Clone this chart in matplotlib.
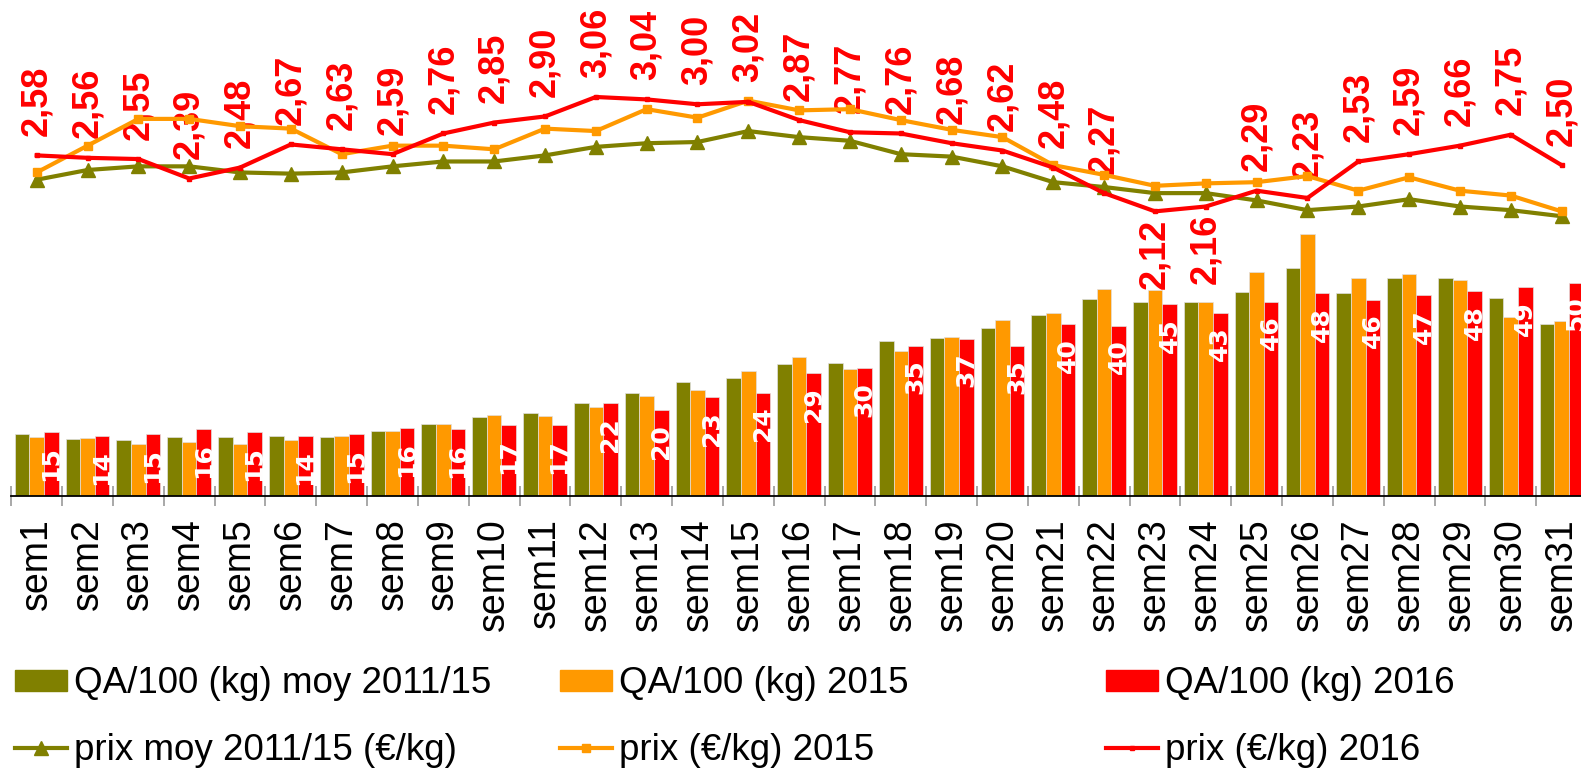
import numpy as np
import matplotlib
matplotlib.use("Agg")
import matplotlib.pyplot as plt
from matplotlib.patches import Patch
from matplotlib.lines import Line2D

plt.rcParams['font.family'] = ['Liberation Sans', 'DejaVu Sans']

semaines = ['sem1', 'sem2', 'sem3', 'sem4', 'sem5', 'sem6', 'sem7', 'sem8', 'sem9', 'sem10',
            'sem11', 'sem12', 'sem13', 'sem14', 'sem15', 'sem16', 'sem17', 'sem18', 'sem19', 'sem20',
            'sem21', 'sem22', 'sem23', 'sem24', 'sem25', 'sem26', 'sem27', 'sem28', 'sem29', 'sem30', 'sem31']

# quantites achetees /100 menages (kg)
qa_moy = [14.5, 13.4, 13.1, 13.8, 13.8, 14.1, 13.9, 15.2, 17.0, 18.6, 19.6, 21.8, 24.3, 26.9, 27.8, 31.0,
          31.4, 36.4, 37.2, 39.5, 42.5, 46.3, 45.7, 45.6, 48.0, 53.6, 47.7, 51.4, 51.3, 46.5, 40.5]
qa_2015 = [13.8, 13.6, 12.3, 12.7, 12.3, 13.2, 14.0, 15.2, 16.9, 19.1, 18.8, 20.9, 23.6, 25.0, 29.5, 32.8,
           29.9, 34.2, 37.4, 41.4, 43.1, 48.6, 48.4, 45.6, 52.6, 61.7, 51.4, 52.2, 50.9, 42.1, 41.1]
qa_2016 = [15.1, 14.1, 14.6, 15.8, 15.1, 14.1, 14.6, 15.9, 15.8, 16.6, 16.6, 21.8, 20.2, 23.3, 24.3, 28.9,
           30.0, 35.4, 37.0, 35.4, 40.4, 40.1, 45.2, 43.1, 45.7, 47.7, 46.2, 47.2, 48.2, 49.1, 50.2]

# prix (euro/kg)
prix_moy = [2.38, 2.46, 2.49, 2.49, 2.44, 2.43, 2.44, 2.49, 2.53, 2.53, 2.58, 2.65, 2.68, 2.69, 2.78, 2.73,
            2.70, 2.59, 2.57, 2.49, 2.36, 2.32, 2.27, 2.27, 2.21, 2.13, 2.16, 2.22, 2.16, 2.13, 2.08]
prix_2015 = [2.44, 2.66, 2.88, 2.88, 2.82, 2.80, 2.59, 2.66, 2.66, 2.63, 2.80, 2.78, 2.96, 2.89, 3.03, 2.95,
             2.96, 2.87, 2.79, 2.73, 2.50, 2.42, 2.33, 2.35, 2.36, 2.41, 2.29, 2.40, 2.29, 2.25, 2.12]
prix_2016 = [2.58, 2.56, 2.55, 2.39, 2.48, 2.67, 2.63, 2.59, 2.76, 2.85, 2.90, 3.06, 3.04, 3.00, 3.02, 2.87,
             2.77, 2.76, 2.68, 2.62, 2.48, 2.27, 2.12, 2.16, 2.29, 2.23, 2.53, 2.59, 2.66, 2.75, 2.50]

c_olive = '#808000'
c_orange = '#FF9900'
c_red = '#FF0000'

W, H = 1581, 774
fig = plt.figure(figsize=(W / 100, H / 100), dpi=100)
ax = fig.add_axes([11.3 / W, 1 - 496 / H, 1575.7 / W, 496 / H])
ax2 = ax.twinx()

x = np.arange(len(semaines))
bw = 0.287
ax.bar(x - bw, qa_moy, bw, color=c_olive, edgecolor='#e0e0e0', linewidth=0.5)
ax.bar(x, qa_2015, bw, color=c_orange, edgecolor='#e0e0e0', linewidth=0.5)
ax.bar(x + bw, qa_2016, bw, color=c_red, edgecolor='#e0e0e0', linewidth=0.5)

for xi, v in zip(x, qa_2016):
    ax.annotate(f"{v:.0f}", (xi + bw, v), xytext=(0, -10), textcoords='offset points',
                rotation=90, ha='center', va='top', color='white', fontsize=18,
                fontweight='bold', family='DejaVu Sans')

ax2.plot(x, prix_moy, color=c_olive, lw=3, marker='^', ms=10, zorder=3)
ax2.plot(x, prix_2015, color=c_orange, lw=3, marker='s', ms=6, zorder=4)
ax2.plot(x, prix_2016, color=c_red, lw=3, marker='s', ms=3.5, zorder=5)

for i, p in enumerate(prix_2016):
    txt = f"{p:.2f}".replace('.', ',')
    if semaines[i] in ('sem23', 'sem24'):
        ax2.annotate(txt, (i, p), xytext=(0, -5), textcoords='offset points', rotation=90,
                     ha='center', va='top', color=c_red, fontsize=26, fontweight='bold')
    else:
        ax2.annotate(txt, (i, p), xytext=(0, 14), textcoords='offset points', rotation=90,
                     ha='center', va='bottom', color=c_red, fontsize=26, fontweight='bold')

ax.set_xlim(-0.5, len(semaines) - 0.5)
ax.set_ylim(0, 116.7)
ax2.set_ylim(-0.219, 3.857)

for a in (ax, ax2):
    for s in ('top', 'left', 'right'):
        a.spines[s].set_visible(False)
    a.set_yticks([])
ax2.spines['bottom'].set_visible(False)
ax.spines['bottom'].set_linewidth(1.3)

ax.set_xticks(x)
ax.set_xticklabels(semaines, rotation=90, fontsize=27, ha='center', va='top')
ax.set_xticks(np.arange(-0.5, len(semaines), 1), minor=True)
ax.tick_params(axis='x', which='major', length=0, pad=16)
ax.tick_params(axis='x', which='minor', length=15, direction='inout', color='#999999', width=1.2)

cols = [(c_olive, 'QA/100 (kg) moy 2011/15', '^', 10, 'prix moy 2011/15 (€/kg)'),
        (c_orange, 'QA/100 (kg) 2015', 's', 6, 'prix (€/kg) 2015'),
        (c_red, 'QA/100 (kg) 2016', 's', 3.5, 'prix (€/kg) 2016')]
xs = [15, 560, 1106]
for (c, lab1, m, ms, lab2), xp in zip(cols, xs):
    h = [Patch(color=c), Line2D([], [], color=c, lw=3, marker=m, ms=ms)]
    fig.legend(h, [lab1, lab2], loc='center left', bbox_to_anchor=(xp / W, 1 - 717 / H),
               frameon=False, fontsize=26.5, handlelength=1.4, handleheight=0.52,
               handletextpad=0.2, labelspacing=0.85, borderpad=0, borderaxespad=0,
               numpoints=1)

fig.savefig('out.png', dpi=100)
